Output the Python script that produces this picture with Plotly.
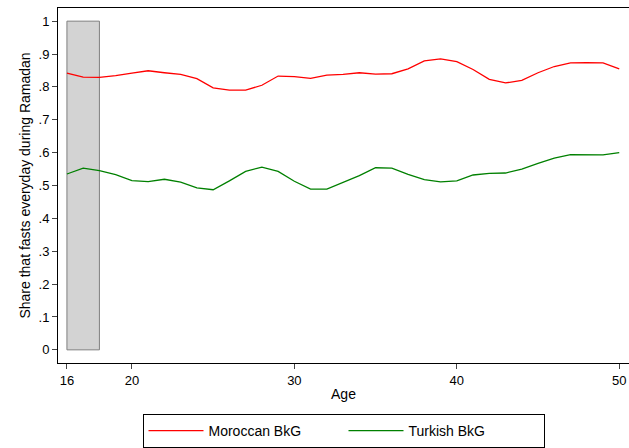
import plotly.graph_objects as go

ages = list(range(16, 51))
moroccan = [.842,.830,.829,.834,.842,.849,.843,.838,.825,.797,.790,.790,.805,.833,.831,.826,.836,.838,.843,.839,.840,.855,.879,.885,.877,.853,.823,.812,.820,.843,.862,.873,.874,.873,.855]
turkish = [.535,.553,.545,.533,.515,.512,.519,.510,.493,.487,.514,.543,.556,.543,.513,.489,.489,.509,.530,.554,.553,.534,.518,.511,.514,.532,.537,.538,.550,.567,.583,.594,.594,.593,.600]
yticks = [0, .1, .2, .3, .4, .5, .6, .7, .8, .9, 1]
ytick_text = ["0", ".1", ".2", ".3", ".4", ".5", ".6", ".7", ".8", ".9", "1"]
xticks = [16, 20, 30, 40, 50]
shade = (16, 18)

fig = go.Figure()
fig.add_shape(type="rect", x0=shade[0], x1=shade[1], y0=0, y1=1, xref="x", yref="y",
              fillcolor="#d3d3d3", line=dict(color="#7f7f7f", width=1), layer="below")
fig.add_trace(go.Scatter(x=ages, y=moroccan, mode="lines", name="Moroccan BkG",
                         line=dict(color="#ff0000", width=1.3)))
fig.add_trace(go.Scatter(x=ages, y=turkish, mode="lines", name="Turkish BkG",
                         line=dict(color="#008000", width=1.3)))
fig.update_layout(
    width=629, height=448, paper_bgcolor="white", plot_bgcolor="white",
    margin=dict(l=58, r=0, t=8, b=80),
    font=dict(family="Liberation Sans, Arial", size=13, color="black"),
    showlegend=True,
    legend=dict(orientation="h", x=0.5, xanchor="center", y=-0.145, yanchor="top",
                bordercolor="black", borderwidth=1, font=dict(size=14),
                entrywidth=130, entrywidthmode="pixels", itemwidth=55),
)
fig.update_xaxes(range=[15.45, 50.6], tickvals=xticks, ticks="outside", ticklen=5,
                 showgrid=False, showline=True, linecolor="black", mirror=True,
                 zeroline=False, title=dict(text="Age", standoff=2, font=dict(size=14)))
fig.update_yaxes(range=[-0.04, 1.04], tickvals=yticks, ticktext=ytick_text, ticks="outside",
                 ticklen=5, showgrid=False, showline=True, linecolor="black", mirror=True,
                 zeroline=False, title=dict(text="Share that fasts everyday during Ramadan", standoff=4, font=dict(size=14)))
fig.write_html("out.html", config={"displayModeBar": False},
               post_script="document.body.style.margin='0';document.body.style.overflow='hidden';")
